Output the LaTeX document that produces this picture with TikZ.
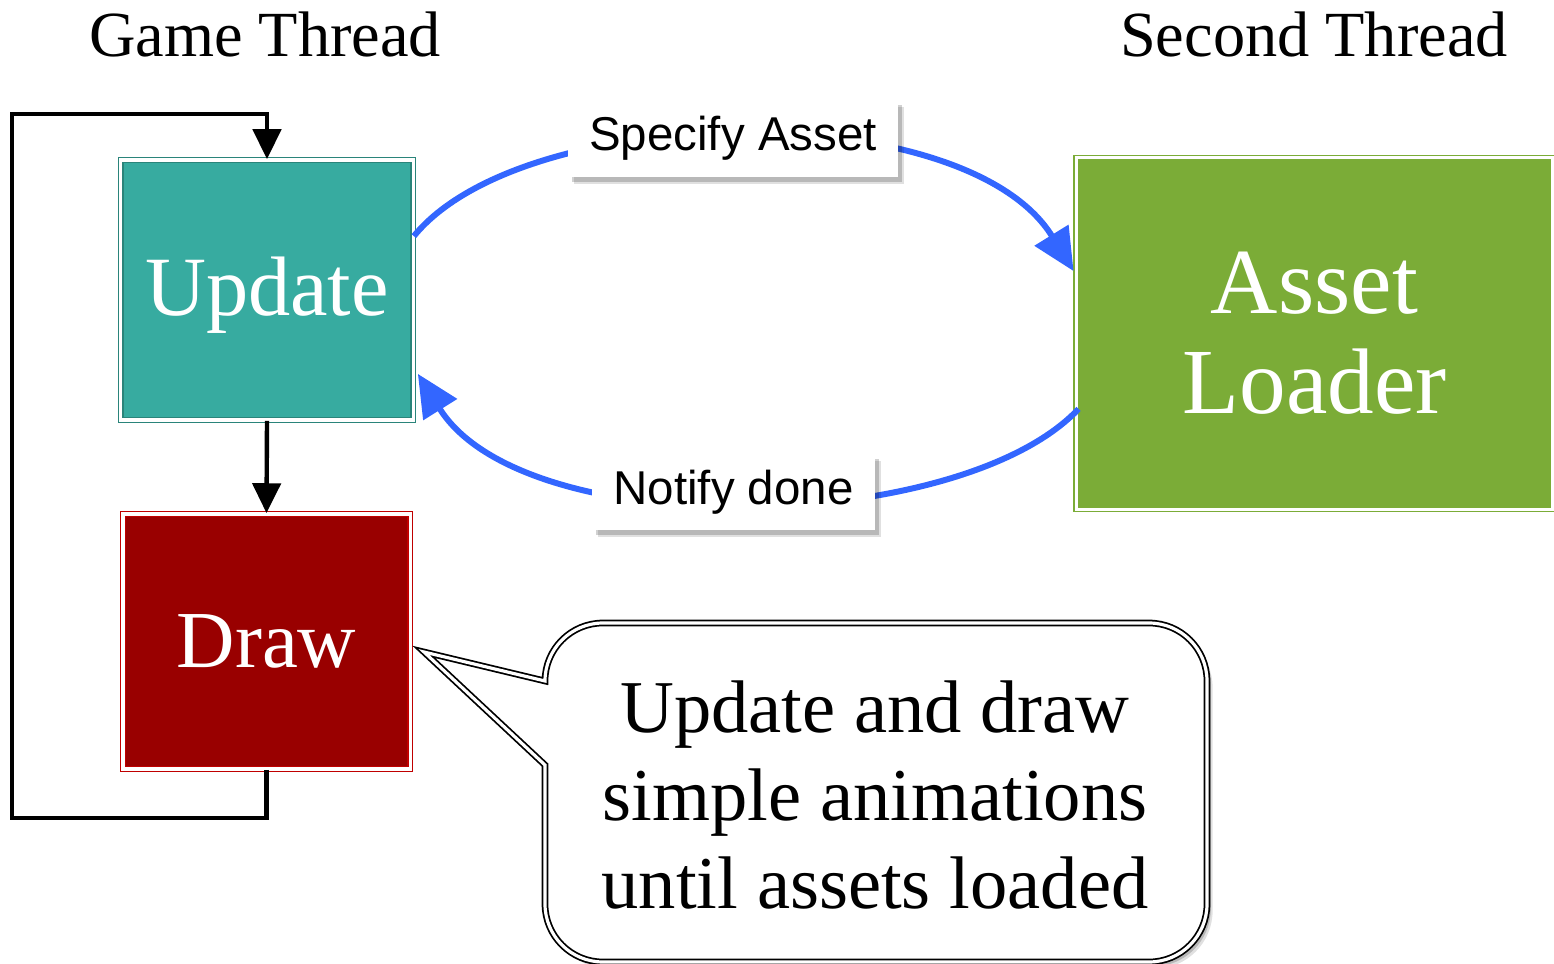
\documentclass[tikz,border=0pt]{standalone}
\usepackage{fontspec}
\setmainfont{Liberation Serif}
\newfontfamily\labelfont{Liberation Sans}
\usetikzlibrary{arrows.meta,shadows,calc}
\definecolor{tealfill}{HTML}{37ABA0}
\definecolor{tealline}{HTML}{2A847A}
\definecolor{redfill}{HTML}{990000}
\definecolor{redline}{HTML}{C00000}
\definecolor{greenfill}{HTML}{7BAC37}
\definecolor{flowblue}{HTML}{3366FF}
\tikzset{
  stagebox/.style={draw=#1, double=white, double distance=0.9pt, line width=0.45pt, inner sep=0pt, text=white},
  titletext/.style={font=\fontsize{18.3}{20}\selectfont, anchor=base},
  softshadow/.style={
     general shadow={shadow xshift=1.6pt, shadow yshift=-1.9pt, opacity=0.12, fill=black},
     general shadow={shadow xshift=1.1pt, shadow yshift=-1.3pt, opacity=0.18, fill=black}},
  flowlabel/.style={fill=white, inner sep=0pt, font=\labelfont\fontsize{13.5}{15}\selectfont, softshadow},
  loopline/.style={line width=1.25pt, -{Triangle[length=8.5pt,width=8pt]}},
  bluearrow/.style={draw=flowblue, line width=1.7pt, -{Triangle[length=12pt,width=11pt]}},
  calloutshape/.style={draw=black, double=white, double distance=0.9pt, line width=0.5pt, fill=white, softshadow},
}
\begin{document}
\begin{tikzpicture}[x=0.01cm, y=-0.01cm]
\useasboundingbox (0,0) rectangle (1554,964);

% titles
\node[titletext] (gt) at (265,57) {Game Thread};
\node[titletext] (st) at (1314,57) {Second Thread};

% boxes
\node[stagebox=tealline, fill=tealfill, minimum width=2.92cm, minimum height=2.6cm,
      font=\fontsize{24}{26}\selectfont] (update) at (267,290) {\raisebox{-1.5pt}[\height][\depth]{Update}};
\node[stagebox=redline, fill=redfill, minimum width=2.87cm, minimum height=2.55cm,
      font=\fontsize{23}{26}\selectfont] (draw) at (266.5,641.5) {Draw};
\node[stagebox=greenfill, fill=greenfill, minimum width=4.76cm, minimum height=3.51cm,
      align=center, font=\fontsize{26.5}{28.5}\selectfont] (asset) at (1314.5,333.5) {Asset\\Loader};

% loop connectors
\coordinate (lb) at (12,818);
\coordinate (lt) at (12,114);
\draw[loopline] (draw.south) |- (lb) -- (lt) -| (update.north);
\draw[loopline] (update.south) -- (draw.north);

% blue flows
\draw[bluearrow] ($(update.north east)+(0,77)$) .. controls (525,100) and (965,95) .. ($(asset.north west)+(-2,114)$);
\draw[bluearrow] ($(asset.south west)+(3,-101)$) .. controls (960,535) and (525,545) .. ($(update.south east)+(4,-47)$);

% labels on flows
\node[flowlabel, minimum width=3.3cm, minimum height=0.77cm] (spec) at (733,138.5) {Specify Asset};
\node[flowlabel, minimum width=2.83cm, minimum height=0.76cm] (notify) at (733.5,492) {Notify done};

% callout
\coordinate (tip) at (424,652);
\draw[calloutshape] (tip) -- (545,681) arc[start angle=180, end angle=270, radius=58]
   -- (1149,623) arc[start angle=270, end angle=360, radius=58]
   -- (1207,904) arc[start angle=0, end angle=90, radius=58]
   -- (603,962) arc[start angle=90, end angle=180, radius=58]
   -- (545,765) -- cycle;
\node[align=center, font=\fontsize{21.2}{25}\selectfont, inner sep=0pt] (note) at (875,795)
   {Update and draw\\simple animations\\until assets loaded};
\end{tikzpicture}
\end{document}
